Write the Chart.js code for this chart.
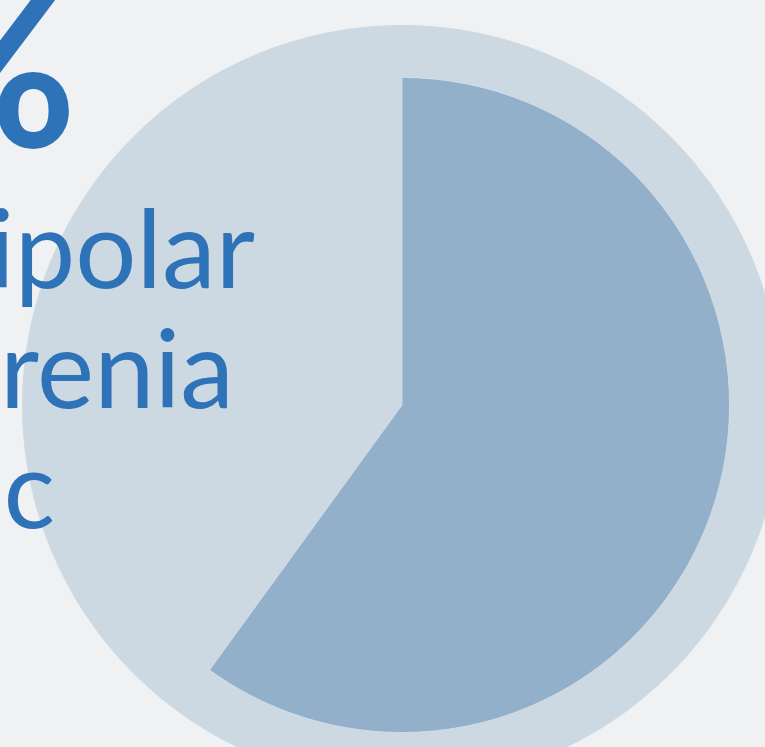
<!DOCTYPE html>
<html lang="en">
<head>
  <meta charset="UTF-8" />
  <title>Share pie</title>
  <script src="https://cdn.jsdelivr.net/npm/chart.js"></script>
  <style>
    html, body { margin: 0; padding: 0; }
    body {
      width: 765px; height: 747px; overflow: hidden; position: relative;
      background: #eff1f3;
      font-family: "Lato", "Open Sans", sans-serif;
    }
    .wrap { position: absolute; left: 22px; top: 25px; width: 760px; height: 760px; }
    .line {
      position: absolute; white-space: nowrap; text-align: right;
      color: #2e72b8; font-size: 108px; line-height: 1; z-index: 2;
    }
    .big { font-weight: 700; font-size: 212px; }
  </style>
</head>
<body>
  <div class="wrap"><canvas id="pie"></canvas></div>

  <div class="line big" id="pct" style="right: 688px; top: -41px;">60%</div>
  <div class="line" style="right: 510px; top: 192px;">Bipolar</div>
  <div class="line" style="right: 531px; top: 312px;">Schizophrenia</div>
  <div class="line" style="right: 710px; top: 432px;">Psychotic</div>

  <script>
    // pie values (percent)
    const labels = ["Share", "Rest"];
    const values = [60, 40];
    const outerValue = [100];

    const dark = "#93b0cb";
    const light = "#cdd9e2";

    new Chart(document.getElementById("pie"), {
      type: "pie",
      data: {
        labels: labels,
        datasets: [
          {
            // pale outer disc
            data: outerValue,
            backgroundColor: [light],
            borderColor: [light],
            borderWidth: 1,
            weight: 52
          },
          {
            data: values,
            backgroundColor: [dark, light],
            borderColor: [dark, light],
            borderWidth: [0, 1],
            weight: 328
          }
        ]
      },
      options: {
        responsive: true,
        maintainAspectRatio: false,
        animation: false,
        hoverOffset: 0,
        layout: { padding: 0 },
        plugins: {
          legend: { display: false },
          tooltip: { enabled: false }
        }
      }
    });
  </script>
</body>
</html>
